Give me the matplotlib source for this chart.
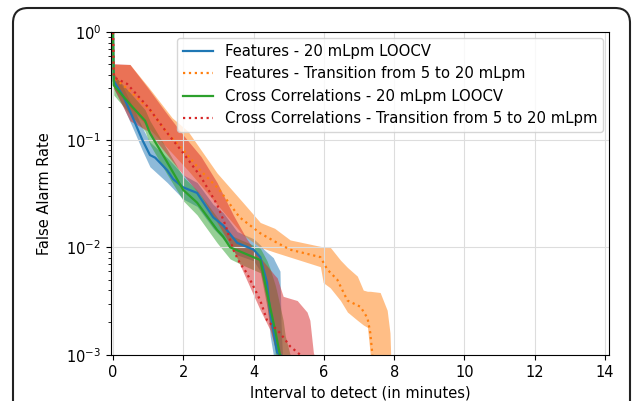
import matplotlib
matplotlib.use("Agg")
import matplotlib.pyplot as plt
import numpy as np
from matplotlib.patches import FancyBboxPatch

# Features - 20 mLpm LOOCV
feat_loocv_x = [0, 0.02, 0.3, 0.6, 0.83, 1.05, 1.2, 1.54, 1.71, 2.0, 2.39, 2.85, 3.13, 3.53, 4.0,
                4.19, 4.38, 4.47, 4.56, 4.67, 4.76]
feat_loocv_y = [1.0, 0.35, 0.25, 0.15, 0.1, 0.072, 0.068, 0.052, 0.043, 0.036, 0.032, 0.019, 0.016,
                0.011, 0.0095, 0.0081, 0.0047, 0.0025, 0.0017, 0.00105, 0.001]
feat_loocv_band_x = [0, 0.02, 0.3, 0.6, 0.83, 1.05, 1.54, 2.0, 2.39, 2.85, 3.13, 3.53, 4.0, 4.19,
                     4.3, 4.38, 4.47, 4.56, 4.6, 4.75, 4.78, 4.82]
feat_loocv_hi = [1.0, 0.42, 0.3, 0.19, 0.13, 0.095, 0.068, 0.047, 0.04, 0.025, 0.021, 0.014, 0.012,
                 0.0105, 0.0095, 0.009, 0.0085, 0.008, 0.0075, 0.006, 0.002, 0.001]
feat_loocv_lo = [1.0, 0.3, 0.2, 0.12, 0.08, 0.056, 0.04, 0.028, 0.024, 0.015, 0.012, 0.0085, 0.0075,
                 0.006, 0.0042, 0.003, 0.0015, 0.001, 0.0005, 0.0005, 0.0005, 0.0005]

# Features - Transition from 5 to 20 mLpm
feat_trans_x = [0, 0.02, 0.5, 1.05, 1.5, 2.0, 2.48, 3.0, 3.6, 4.19, 4.67, 5.04, 5.9, 6.1, 6.38,
                6.67, 7.04, 7.24, 7.32, 7.38]
feat_trans_y = [1.0, 0.38, 0.28, 0.19, 0.12, 0.08, 0.052, 0.035, 0.019, 0.0135, 0.011, 0.0095,
                0.0081, 0.0062, 0.005, 0.0032, 0.0028, 0.0022, 0.0016, 0.001]
feat_trans_band_x = [0, 0.02, 0.48, 1.0, 1.68, 2.13, 2.96, 3.7, 4.19, 4.6, 5.04, 5.9, 5.98, 6.18,
                     6.47, 6.67, 6.95, 7.12, 7.24, 7.32, 7.6, 7.8, 7.88, 7.9]
feat_trans_hi = [1.0, 0.5, 0.5, 0.31, 0.16, 0.12, 0.049, 0.026, 0.017, 0.015, 0.0117, 0.0102,
                 0.0101, 0.01, 0.0076, 0.0065, 0.0054, 0.004, 0.0039, 0.0039, 0.0038, 0.0026,
                 0.0016, 0.001]
feat_trans_lo = [1.0, 0.3, 0.2, 0.13, 0.075, 0.052, 0.025, 0.013, 0.01, 0.009, 0.0081, 0.0066,
                 0.0047, 0.0042, 0.0032, 0.0025, 0.0021, 0.0019, 0.0018, 0.001, 0.0005, 0.0005,
                 0.0005, 0.0005]

# Cross Correlations - 20 mLpm LOOCV
cc_loocv_x = [0, 0.02, 0.5, 0.91, 1.05, 1.5, 2.0, 2.39, 2.96, 3.13, 3.33, 3.7, 4.19, 4.38, 4.61,
              4.75]
cc_loocv_y = [1.0, 0.32, 0.21, 0.15, 0.115, 0.065, 0.034, 0.026, 0.0145, 0.0126, 0.01, 0.0089,
              0.0076, 0.0038, 0.0017, 0.001]
cc_loocv_band_x = [0, 0.02, 0.5, 0.91, 1.05, 1.5, 2.0, 2.39, 2.96, 3.33, 3.7, 4.19, 4.38, 4.47,
                   4.61, 4.65, 4.84, 4.9, 5.04]
cc_loocv_hi = [1.0, 0.4, 0.27, 0.19, 0.15, 0.085, 0.045, 0.034, 0.019, 0.013, 0.0115, 0.0098,
               0.0075, 0.0063, 0.0045, 0.004, 0.0021, 0.0015, 0.001]
cc_loocv_lo = [1.0, 0.26, 0.17, 0.12, 0.09, 0.05, 0.027, 0.02, 0.011, 0.0078, 0.0068, 0.0058,
               0.0028, 0.0019, 0.0011, 0.0005, 0.0005, 0.0005, 0.0005]

# Cross Correlations - Transition from 5 to 20 mLpm
cc_trans_x = [0, 0.02, 0.4, 1.0, 1.5, 2.0, 2.5, 2.96, 3.2, 3.42, 3.6, 3.8, 4.0, 4.19, 4.38, 4.75,
              5.04, 5.33]
cc_trans_y = [1.0, 0.38, 0.33, 0.2, 0.12, 0.075, 0.045, 0.025, 0.016, 0.0095, 0.0072, 0.0058,
              0.0043, 0.0032, 0.0021, 0.0016, 0.0012, 0.001]
cc_trans_band_x = [0, 0.02, 0.48, 1.0, 1.5, 2.0, 2.5, 2.96, 3.42, 3.8, 4.19, 4.47, 4.6, 4.67, 4.84,
                   5.24, 5.52, 5.6, 5.7, 5.72]
cc_trans_hi = [1.0, 0.51, 0.5, 0.3, 0.18, 0.11, 0.07, 0.04, 0.02, 0.012, 0.008, 0.0062, 0.0055,
               0.0052, 0.0035, 0.0032, 0.0025, 0.0021, 0.00105, 0.001]
cc_trans_lo = [1.0, 0.3, 0.15, 0.12, 0.075, 0.047, 0.03, 0.017, 0.0095, 0.005, 0.0026, 0.0017,
               0.0012, 0.001, 0.0005, 0.0005, 0.0005, 0.0005, 0.0005, 0.0005]

labels = [
    "Features - 20 mLpm LOOCV",
    "Features - Transition from 5 to 20 mLpm",
    "Cross Correlations - 20 mLpm LOOCV",
    "Cross Correlations - Transition from 5 to 20 mLpm",
]
x_ticks = [0, 2, 4, 6, 8, 10, 12, 14]

series = [
    (feat_loocv_x, feat_loocv_y, feat_loocv_band_x, feat_loocv_lo, feat_loocv_hi, "-"),
    (feat_trans_x, feat_trans_y, feat_trans_band_x, feat_trans_lo, feat_trans_hi, ":"),
    (cc_loocv_x, cc_loocv_y, cc_loocv_band_x, cc_loocv_lo, cc_loocv_hi, "-"),
    (cc_trans_x, cc_trans_y, cc_trans_band_x, cc_trans_lo, cc_trans_hi, ":"),
]
colors = ["#1f77b4", "#ff7f0e", "#2ca02c", "#d62728"]

plt.rcParams["font.family"] = "DejaVu Sans"
fig = plt.figure(figsize=(6.34, 4.01), dpi=100)
ax = fig.add_axes([0.175, 0.115, 0.786, 0.805])

for (x, y, bx, lo, hi, ls), c in zip(series, colors):
    ax.fill_between(bx, lo, hi, color=c, alpha=0.5, linewidth=0)
for (x, y, bx, lo, hi, ls), c, lab in zip(series, colors, labels):
    ax.plot(x, y, color=c, linestyle=ls, linewidth=1.6, label=lab)

ax.set_yscale("log")
ax.set_ylim(1e-3, 1)
ax.set_xlim(-0.06, 14.12)
ax.set_xticks(x_ticks)
ax.grid(True, which="major", color="#dddddd", linewidth=0.8)
ax.tick_params(labelsize=10.5)
ax.set_xlabel("Interval to detect (in minutes)", fontsize=10.5)
ax.set_ylabel("False Alarm Rate", fontsize=10.5, labelpad=10)
ax.legend(loc="upper right", fontsize=10.7, handlelength=2.0, borderaxespad=0.4)

# rounded card border around the figure
card = FancyBboxPatch((0.13, -0.5), 6.17, 4.43, boxstyle="round,pad=0,rounding_size=0.15",
                      transform=fig.dpi_scale_trans, fill=False, edgecolor="#222222",
                      linewidth=1.5, clip_on=False)
fig.patches.append(card)

fig.savefig("out.png", dpi=100)
